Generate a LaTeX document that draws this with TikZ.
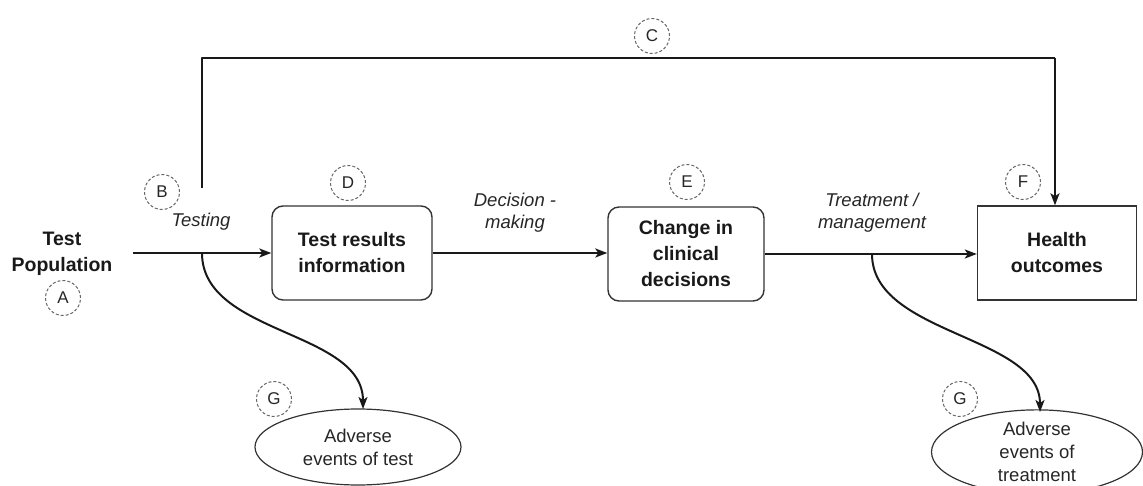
\documentclass[tikz,border=0pt]{standalone}
\usepackage{fontspec}
\setmainfont{Liberation Sans}
\usetikzlibrary{shapes.geometric,arrows.meta}
\begin{document}
\begin{tikzpicture}[x=1pt,y=-1pt,
  lbl/.style={circle,draw=black!60,dash pattern=on 3pt off 2pt,line width=1pt,minimum size=35pt,inner sep=0pt,font=\fontsize{17}{18}\selectfont,text=black!85},
  rbox/.style={draw=black!80,line width=1.4pt,align=center,inner sep=0pt,font=\fontsize{19.5}{26}\selectfont\bfseries,text=black!90},
  ell/.style={ellipse,draw=black!80,line width=1.2pt,align=center,inner sep=0pt,font=\fontsize{18.5}{23}\selectfont,text=black!85},
  conn/.style={line width=2pt,draw=black!90,-{Stealth[length=12pt,width=9pt,inset=3pt]}},
  plain/.style={line width=2pt,draw=black!90},
  ital/.style={font=\fontsize{18.5}{22}\selectfont\itshape,align=center,text=black!85},
]
\useasboundingbox (0,0) rectangle (1143,486);

% main nodes
\node[font=\fontsize{19.5}{26}\selectfont\bfseries,align=center,text=black!90] (tp) at (62,254) {Test\\Population};
\node[rbox,rounded corners=11pt,minimum width=160pt,minimum height=94pt] (D) at (352,253) {Test results\\information};
\node[rbox,rounded corners=11pt,minimum width=156pt,minimum height=94pt] (E) at (686,254) {Change in\\clinical\\decisions};
\node[rbox,minimum width=159pt,minimum height=94pt] (F) at (1057,253) {Health\\outcomes};
\node[ell,minimum width=206pt,minimum height=76pt] (G1e) at (358,447) {Adverse\\events of test};
\node[ell,minimum width=211pt,minimum height=80pt] (G2e) at (1037,452) {Adverse\\events of\\treatment};

% letter labels
\node[lbl] (A) at (63,298) {A};
\node[lbl] (B) at (162,192) {B};
\node[lbl] (C) at (652,36) {C};
\node[lbl] (Dl) at (348,183) {D};
\node[lbl] (El) at (687,182) {E};
\node[lbl] (Fl) at (1023,182) {F};
\node[lbl] (G1) at (274,399) {G};
\node[lbl] (G2) at (960,399) {G};

% edge labels
\node[ital] (testing) at (201,222) {Testing};
\node[ital] (decision) at (515,213) {Decision -\\making};
\node[ital] (treat) at (872,213) {Treatment /\\management};

% coordinates
\coordinate (s) at (133,253);
\coordinate (b1) at (202,253);
\coordinate (cs) at (202,188);
\coordinate (ct) at (202,58);
\coordinate (ce) at (1055,58);
\coordinate (b2) at (872,254);
\coordinate (g1t) at (363,409);
\coordinate (g2t) at (1040,412);

% connectors
\draw[conn] (s) -- (D.west);
\draw[conn] (D.east) -- (E.west |- D.east);
\draw[conn] (E.east) -- (F.west |- E.east);
\draw[plain,line join=round] (cs) -- (ct) -- (ce);
\draw[conn] (ce) -- (ce |- F.north);
\draw[conn] (b1) .. controls (202,335) and (363,330) .. (g1t);
\draw[conn] (b2) .. controls (872,335) and (1040,335) .. (g2t);
\end{tikzpicture}
\end{document}
